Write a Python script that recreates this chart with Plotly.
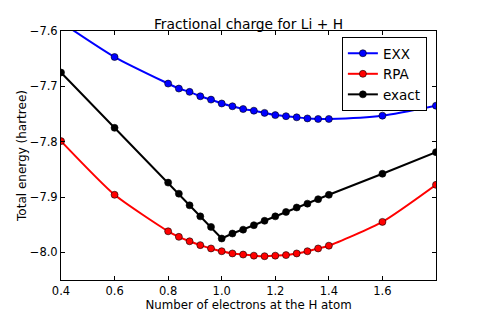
import plotly.graph_objects as go

x_vals = [0.4, 0.6, 0.8, 0.84, 0.88, 0.92, 0.96, 1.0, 1.04, 1.08, 1.12, 1.16,
          1.2, 1.24, 1.28, 1.32, 1.36, 1.4, 1.6, 1.8]
exx = [-7.584, -7.647, -7.695, -7.704, -7.710, -7.718, -7.724, -7.731, -7.736, -7.741,
       -7.744, -7.748, -7.752, -7.754, -7.756, -7.758, -7.759, -7.759, -7.753, -7.735]
rpa = [-7.799, -7.896, -7.962, -7.972, -7.980, -7.987, -7.993, -7.998, -8.002, -8.004,
       -8.006, -8.007, -8.006, -8.005, -8.002, -7.998, -7.993, -7.988, -7.945, -7.878]
exact = [-7.675, -7.775, -7.874, -7.894, -7.915, -7.935, -7.954, -7.975, -7.966, -7.959,
         -7.951, -7.943, -7.935, -7.927, -7.919, -7.912, -7.904, -7.896, -7.858, -7.819]

x_ticks = [0.4, 0.6, 0.8, 1.0, 1.2, 1.4, 1.6]
y_ticks = [-7.6, -7.7, -7.8, -7.9, -8.0]

series = [("EXX", exx, "#0000ff", "spline"), ("RPA", rpa, "#ff0000", "spline"),
          ("exact", exact, "#000000", "linear")]

fig = go.Figure()
for name, vals, col, shape in series:
    fig.add_trace(go.Scatter(
        x=x_vals, y=vals, name=name, mode="lines+markers",
        line=dict(color=col, width=2, shape=shape, smoothing=0.6),
        marker=dict(color=col, size=7, line=dict(color="black", width=0.6)),
        cliponaxis=True,
    ))

font = "DejaVu Sans, sans-serif"
# page body adds an 8px offset; margins compensate so the plot lands at 61..436 x 31..280
fig.update_layout(
    width=477, height=304,
    margin=dict(l=53, r=49, t=23, b=32, autoexpand=False),
    paper_bgcolor="white", plot_bgcolor="white",
    font=dict(family=font, size=11.5, color="black"),
    title=dict(text="Fractional charge for Li + H", x=0.5, xref="paper",
               xanchor="center", y=1, yref="paper", yanchor="bottom",
               pad=dict(b=2), automargin=False,
               font=dict(size=13.8, family=font)),
    showlegend=True,
    legend=dict(x=0.749, y=0.976, xanchor="left", yanchor="top",
                bordercolor="black", borderwidth=1, bgcolor="white",
                font=dict(size=13.5, family=font), tracegroupgap=0,
                itemwidth=30),
)
fig.update_xaxes(range=[0.4, 1.8], tickvals=x_ticks, tickformat=".1f",
                 ticks="inside", ticklen=4, tickcolor="black", showline=True,
                 linecolor="black", linewidth=1, mirror="ticks", showgrid=False,
                 zeroline=False, automargin=False, tickfont=dict(size=11.5),
                 title=dict(text="Number of electrons at the H atom",
                            font=dict(size=11.8), standoff=2))
fig.update_yaxes(range=[-8.05, -7.6], tickvals=y_ticks, tickformat=".1f",
                 ticks="inside", ticklen=4, tickcolor="black", showline=True,
                 linecolor="black", linewidth=1, mirror="ticks", showgrid=False,
                 zeroline=False, automargin=False, tickfont=dict(size=11.5),
                 title=dict(text="Total energy (hartree)", font=dict(size=12),
                            standoff=0))
fig.write_html("out.html")
